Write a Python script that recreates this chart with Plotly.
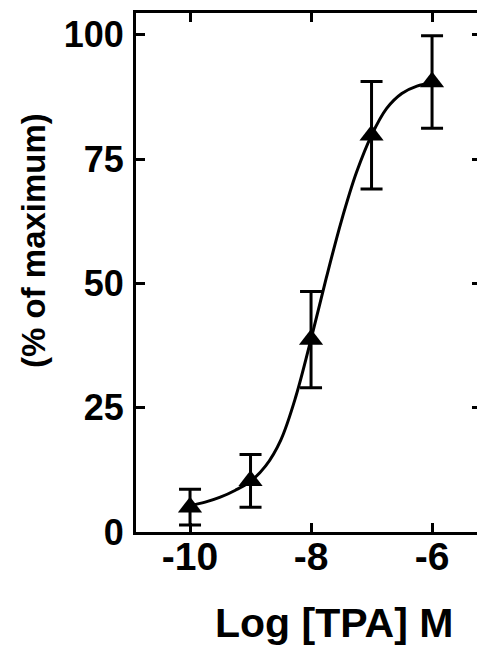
import plotly.graph_objects as go

# Measured response (% of maximum) against log TPA concentration
log_tpa = [-10, -9, -8, -7, -6]
response = [5.0, 10.3, 38.7, 79.8, 90.5]
response_err = [3.6, 5.3, 9.7, 10.8, 9.3]

# Fitted dose-response curve, sampled points
curve_x = [-10, -9.75, -9.5, -9.25, -9, -8.75, -8.5, -8.25, -8, -7.75, -7.5,
           -7.25, -7, -6.75, -6.5, -6.25, -6]
curve_y = [5.3, 6.0, 7.0, 8.4, 10.2, 13.3, 18.5, 27.3, 38.8, 51.0, 62.5,
           72.3, 79.8, 85.2, 88.2, 89.7, 90.3]

x_ticks = [-10, -8, -6]
x_tick_text = ["-10", "-8", "-6"]
y_ticks = [0, 25, 50, 75, 100]
y_tick_text = ["0", "25", "50", "75", "100"]

FONT = "Liberation Sans, Arial, Helvetica, sans-serif"

L, R, T, B = 136, 0, 13, 120
W, H = 477, 652

fig = go.Figure()

fig.add_trace(go.Scatter(
    x=curve_x, y=curve_y, mode="lines",
    line=dict(color="black", width=3, shape="spline", smoothing=1.0),
    hoverinfo="skip", showlegend=False,
))

fig.add_trace(go.Scatter(
    x=log_tpa, y=response, mode="markers",
    marker=dict(symbol="triangle-up", size=21, color="black"),
    error_y=dict(type="data", array=response_err, visible=True,
                 color="black", thickness=3, width=11),
    showlegend=False,
))

# invisible trace to carry the right-hand tick marks
fig.add_trace(go.Scatter(x=[-8], y=[50], yaxis="y2", mode="markers",
                         marker=dict(opacity=0), hoverinfo="skip", showlegend=False))

x_range = [-10.893, -5.257]
y_range = [0, 104.4]


def px_to_paper(px, py):
    return (px - L) / (W - L - R), (H - B - py) / (H - T - B)


ytx, yty = px_to_paper(33, 241)
xtx, xty = px_to_paper(334, 623)

fig.update_layout(
    width=W, height=H,
    margin=dict(l=L, r=R, t=T, b=B),
    paper_bgcolor="white", plot_bgcolor="white",
    font=dict(family=FONT, color="black"),
    xaxis=dict(
        range=x_range, tickvals=x_ticks, ticktext=x_tick_text,
        showline=True, linecolor="black", linewidth=3, mirror="ticks",
        ticks="inside", ticklen=9, tickwidth=2.5, tickcolor="black",
        showgrid=False, zeroline=False, ticklabelstandoff=-12,
        tickfont=dict(family=FONT, size=39, color="black", weight="bold"),
    ),
    yaxis=dict(
        range=y_range, tickvals=y_ticks, ticktext=y_tick_text,
        showline=True, linecolor="black", linewidth=3, mirror=False,
        ticks="inside", ticklen=9, tickwidth=2.5, tickcolor="black",
        showgrid=False, zeroline=False, ticklabelstandoff=2,
        tickfont=dict(family=FONT, size=36, color="black", weight="bold"),
    ),
    yaxis2=dict(
        range=y_range, tickvals=y_ticks, overlaying="y", side="right",
        showline=False, showticklabels=False, showgrid=False, zeroline=False,
        ticks="inside", ticklen=5, tickwidth=2.5, tickcolor="black",
    ),
    annotations=[
        dict(text="(% of maximum)", x=ytx, y=yty, xref="paper", yref="paper",
             xanchor="center", yanchor="middle", showarrow=False, textangle=-90,
             font=dict(family=FONT, size=33, color="black", weight="bold")),
        dict(text="Log [TPA] M", x=xtx, y=xty, xref="paper", yref="paper",
             xanchor="center", yanchor="middle", showarrow=False,
             font=dict(family=FONT, size=41, color="black", weight="bold")),
    ],
)

fig.write_html("out.html")
